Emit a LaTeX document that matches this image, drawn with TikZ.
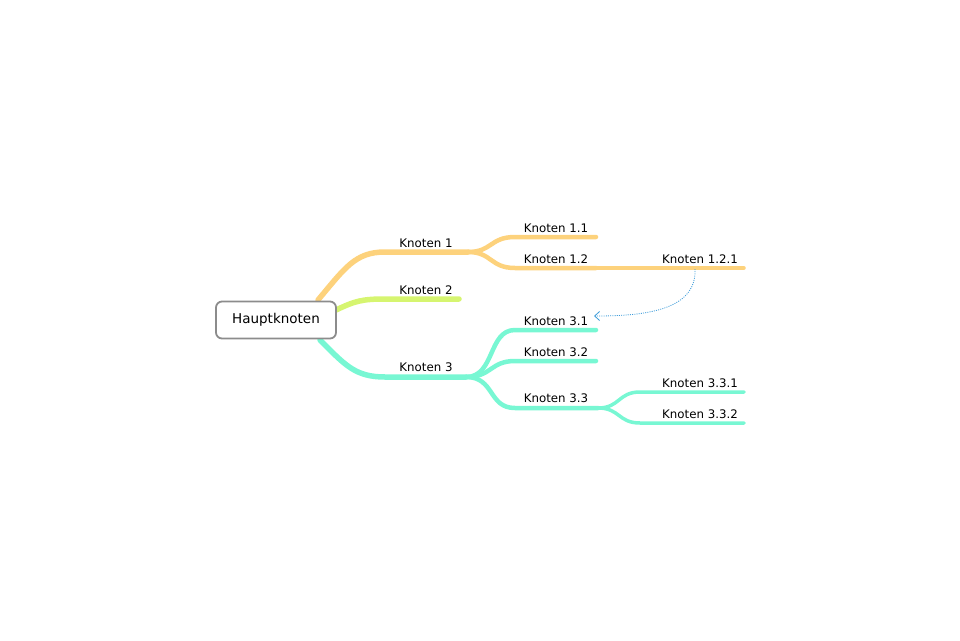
\documentclass[tikz,border=0pt]{standalone}
\usepackage{fontspec}
\setmainfont{DejaVu Sans}
\usetikzlibrary{arrows.meta}
\definecolor{orangeB}{HTML}{FDD27C}
\definecolor{greenB}{HTML}{D6F570}
\definecolor{cyanB}{HTML}{78F7D3}
\definecolor{boxgray}{HTML}{8C8C8C}
\definecolor{linkblue}{HTML}{3A9AD9}
\tikzset{
  branch/.style={line cap=round, line width=#1},
  lbl/.style={font=\fontsize{11.8}{13}\selectfont, anchor=base, inner sep=0pt},
  root/.style={draw=boxgray, line width=1.8pt, rounded corners=6pt, fill=white,
    minimum width=120pt, minimum height=37pt, font=\fontsize{13.5}{15}\selectfont},
  link/.style={draw=linkblue, dash pattern=on 1pt off 1.2pt, line width=0.8pt, -{Straight Barb[length=5pt,width=9pt]}}
}
\begin{document}
\begin{tikzpicture}[x=1pt,y=-1pt]
\useasboundingbox (0,0) rectangle (960,640);
% branch points
\coordinate (r1) at (318,300);
\coordinate (r2) at (336,310);
\coordinate (r3) at (320,340);
\coordinate (a1) at (385,252);
\coordinate (b1) at (468,252);
\coordinate (a2) at (385,299);
\coordinate (b2) at (459,299);
\coordinate (a3) at (385,377);
\coordinate (b3) at (466,377);
\coordinate (a11) at (515,237);
\coordinate (b11) at (596,237);
\coordinate (a12) at (515,268);
\coordinate (b12) at (596,268);
\coordinate (b121) at (744,268);
\coordinate (a31) at (515,330);
\coordinate (b31) at (596,330);
\coordinate (a32) at (515,361);
\coordinate (b32) at (596,361);
\coordinate (a33) at (515,408);
\coordinate (b33) at (598,408);
\coordinate (a331) at (640,392);
\coordinate (b331) at (744,392);
\coordinate (a332) at (640,423);
\coordinate (b332) at (744,423);
% branches
\draw[branch=5.5pt, orangeB] (r1) .. controls (345,268) and (355,252) .. (a1) -- (b1);
\draw[branch=4.5pt, orangeB] (b1) .. controls (492,252) and (490,237) .. (a11) -- (b11);
\draw[branch=4.5pt, orangeB] (b1) .. controls (492,252) and (490,268) .. (a12) -- (b12);
\draw[branch=3.5pt, orangeB] (b12) -- (b121);
\draw[branch=5.5pt, greenB] (r2) .. controls (355,301) and (362,299) .. (a2) -- (b2);
\draw[branch=5.5pt, cyanB] (r3) .. controls (345,365) and (355,377) .. (a3) -- (b3);
\draw[branch=4.5pt, cyanB] (b3) .. controls (495,377) and (488,330) .. (a31) -- (b31);
\draw[branch=4.5pt, cyanB] (b3) .. controls (492,377) and (490,361) .. (a32) -- (b32);
\draw[branch=4.5pt, cyanB] (b3) .. controls (495,377) and (488,408) .. (a33) -- (b33);
\draw[branch=3.5pt, cyanB] (b33) .. controls (620,408) and (618,392) .. (a331) -- (b331);
\draw[branch=3.5pt, cyanB] (b33) .. controls (620,408) and (618,423) .. (a332) -- (b332);
% root
\node[root] (hk) at (276,320) {Hauptknoten};
% labels
\node[lbl] (k1) at (426,247) {Knoten 1};
\node[lbl] (k2) at (426,294) {Knoten 2};
\node[lbl] (k3) at (426,371) {Knoten 3};
\node[lbl] (k11) at (556,232) {Knoten 1.1};
\node[lbl] (k12) at (556,263) {Knoten 1.2};
\node[lbl] (k121) at (700,263) {Knoten 1.2.1};
\node[lbl] (k31) at (556,325) {Knoten 3.1};
\node[lbl] (k32) at (556,356) {Knoten 3.2};
\node[lbl] (k33) at (556,402) {Knoten 3.3};
\node[lbl] (k331) at (700,387) {Knoten 3.3.1};
\node[lbl] (k332) at (700,418) {Knoten 3.3.2};
% link
\coordinate (ls) at (695,269);
\coordinate (le) at (594,316);
\draw[link] (ls) .. controls (697,312) and (640,316) .. (le);
\end{tikzpicture}
\end{document}
